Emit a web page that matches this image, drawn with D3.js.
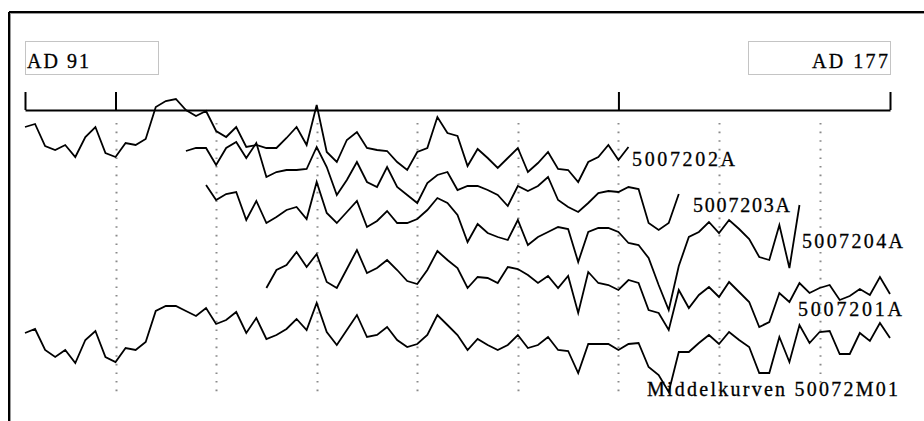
<!DOCTYPE html>
<html>
<head>
<meta charset="utf-8">
<script src="https://cdn.jsdelivr.net/npm/d3@7"></script>
<style>
  html, body { margin: 0; padding: 0; background: #fff; }
  svg { display: block; }
</style>
</head>
<body>
<svg id="chart" width="924" height="421"></svg>
<script>
// ---------------- DATA ----------------
const firstYear = 91;
const lastYear = 177;
const startLabel = "AD 91";
const endLabel = "AD 177";
const majorTickYears = [91, 100, 150, 177];
const gridYears = [100, 110, 120, 130, 140, 150, 160, 170];

const seriesNames = ["5007202A", "5007203A", "5007204A", "5007201A", "Middelkurven 50072M01"];
const seriesStart = [91, 107, 109, 115, 91];

const s5007202A = [63,66,44,40,45,33,53,63,37,33,47,45,51,83,89,91,80,74,79,59,
  53,63,43,45,42,42,52,63,45,85,38,28,50,58,42,40,39,28,20,38,
  42,73,57,54,24,41,32,22,32,42,18,27,38,21,20,8,28,33,45,30,43];
const s5007203A = [89,92,92,75,92,98,82,97,63,68,70,70,71,93,73,45,60,78,58,53,
  73,53,45,37,57,65,68,50,54,54,50,45,34,54,49,54,63,40,33,28,
  37,47,49,48,53,51,17,10,17,46];
const s5007204A = [135,120,126,128,100,119,97,103,110,113,101,138,107,97,108,119,93,99,109,97,
  97,101,110,122,117,105,78,96,87,83,80,100,75,83,88,93,91,58,88,92,
  92,88,77,75,62,35,10,54,83,88,98,87,100,91,81,63,60,95,52,115];
const s5007201A = [52,70,75,88,73,86,58,52,71,90,67,72,80,70,59,56,70,89,80,72,
  52,63,62,57,73,71,65,57,64,52,64,27,68,57,55,50,60,57,30,27,
  10,50,32,45,53,43,58,48,38,13,18,47,38,57,47,52,55,40,44,51,
  45,63,46];
const sMean = [67,71,50,43,50,37,60,69,43,38,52,50,58,89,94,94,89,84,92,76,
  80,88,67,82,61,65,71,81,70,97,68,55,70,85,63,65,73,60,53,56,
  65,85,75,65,50,61,55,50,55,65,52,55,63,50,49,27,56,56,56,50,
  56,57,33,25,8,48,48,57,65,56,68,60,53,27,27,63,38,75,57,68,
  69,46,46,67,59,77,62];
const seriesValues = [s5007202A, s5007203A, s5007204A, s5007201A, sMean];

// ---------------- LAYOUT ----------------
const svg = d3.select("#chart");
const x = d3.scaleLinear().domain([firstYear, lastYear]).range([25, 890]);
const y = d3.scaleLinear().domain([0, 100]).range([0, -100]);
const axisY = 110;
const seriesBase = [190, 240, 320, 340, 400];
const labelPos = [
  {x: 632, y: 166, w: 103},
  {x: 693, y: 212, w: 97},
  {x: 802, y: 248, w: 101},
  {x: 798, y: 316, w: 104},
  {x: 647, y: 396, w: 251}
];

// frame
svg.append("line").attr("x1", 9).attr("x2", 9).attr("y1", 12).attr("y2", 421)
  .attr("stroke", "#000").attr("stroke-width", 2);
svg.append("line").attr("x1", 9).attr("x2", 924).attr("y1", 12).attr("y2", 12)
  .attr("stroke", "#000").attr("stroke-width", 2);
svg.append("line").attr("x1", 10.5).attr("x2", 10.5).attr("y1", 13).attr("y2", 421)
  .attr("stroke", "#999").attr("stroke-width", 1);
svg.append("line").attr("x1", 10).attr("x2", 924).attr("y1", 13.5).attr("y2", 13.5)
  .attr("stroke", "#999").attr("stroke-width", 1);

// year boxes
const boxes = [
  {x0: 25.5, x1: 158.5, text: startLabel, tx: 27, w: 62},
  {x0: 748.5, x1: 890.5, text: endLabel, tx: 812, w: 76}
];
boxes.forEach(b => {
  svg.append("rect").attr("x", b.x0).attr("y", 41.5).attr("width", b.x1 - b.x0).attr("height", 33)
    .attr("fill", "#fff").attr("stroke", "#c4c4c4").attr("stroke-width", 1);
  svg.append("text").attr("x", b.tx).attr("y", 68)
    .attr("font-family", "'Liberation Serif', 'Times New Roman', serif").attr("font-size", 20)
    .attr("textLength", b.w).attr("lengthAdjust", "spacing")
    .attr("stroke", "#000").attr("stroke-width", 0.3)
    .attr("fill", "#000").text(b.text);
});

// dotted grid
svg.append("g").selectAll("line").data(gridYears).join("line")
  .attr("x1", d => Math.round(x(d)) + 0.5).attr("x2", d => Math.round(x(d)) + 0.5)
  .attr("y1", 123).attr("y2", 395)
  .attr("stroke", "#8a8a8a").attr("stroke-width", 2).attr("stroke-dasharray", "1.6 7");

// time axis
const axis = d3.axisTop(x).tickValues(majorTickYears).tickSize(18).tickSizeOuter(0).tickFormat("");
const gAxis = svg.append("g").attr("transform", `translate(0,${axisY})`).call(axis);
gAxis.select(".domain").attr("stroke", "#000").attr("stroke-width", 2);
gAxis.selectAll(".tick line").attr("stroke", "#000").attr("stroke-width", 2);

// curves
const line = d3.line().x(d => x(d.year)).y(d => y(d.v));
seriesValues.forEach((vals, i) => {
  const pts = vals.map((v, k) => ({year: seriesStart[i] + k, v}));
  const g = svg.append("g").attr("transform", `translate(0,${seriesBase[i]})`);
  g.append("path").datum(pts).attr("d", line)
    .attr("fill", "none").attr("stroke", "#000").attr("stroke-width", 1.8)
    .attr("stroke-linejoin", "miter");
});

// series labels
seriesNames.forEach((name, i) => {
  const p = labelPos[i];
  svg.append("text").attr("x", p.x).attr("y", p.y)
    .attr("font-family", "'Liberation Serif', 'Times New Roman', serif").attr("font-size", 20)
    .attr("textLength", p.w).attr("lengthAdjust", "spacing")
    .attr("stroke", "#000").attr("stroke-width", 0.3)
    .attr("fill", "#000").text(name);
});
</script>
</body>
</html>
